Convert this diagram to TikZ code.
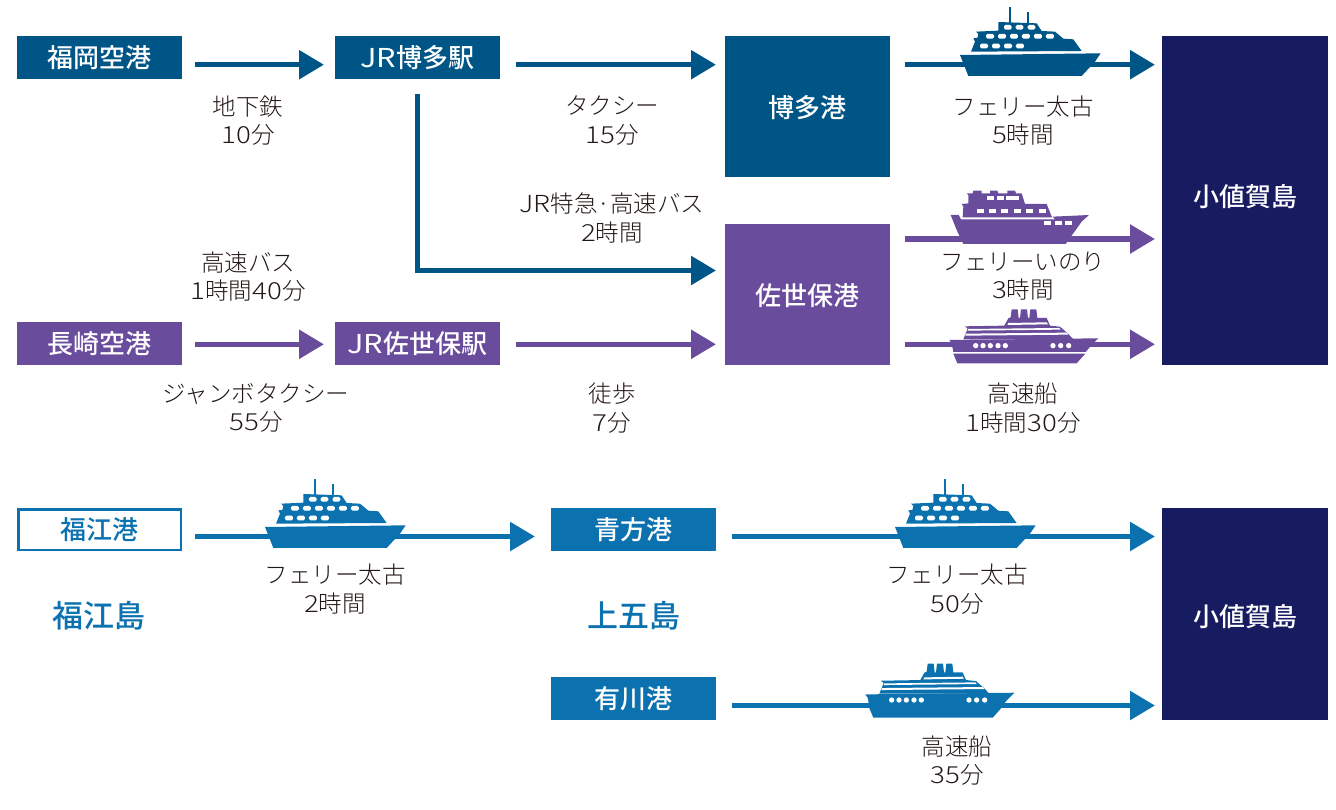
\documentclass[tikz,border=0pt]{standalone}
\usepackage{fontspec}
\usetikzlibrary{arrows.meta,calc}
\setmainfont{Noto Sans CJK JP}[UprightFont=* Light,BoldFont=* Medium]
\newfontfamily\digitfont{Noto Sans CJK JP Light}[FakeStretch=1.18]
\newfontfamily\latinbold{Noto Sans CJK JP}[FakeStretch=1.18]
\newcommand{\dg}[1]{{\digitfont #1}}
\newcommand{\lb}[1]{{\latinbold\mdseries #1}}
\definecolor{hakata}{HTML}{005587}
\definecolor{sasebo}{HTML}{6A4C9C}
\definecolor{goto}{HTML}{0B71AF}
\definecolor{ojika}{HTML}{171C61}
\definecolor{ink}{HTML}{231815}
\tikzset{
  x=1pt,y=-1pt,
  boxnode/.style={inner sep=0pt,outer sep=0pt,text=white,font=\fontsize{26}{28}\selectfont\bfseries,align=center},
  smallbox/.style={boxnode,minimum width=165pt,minimum height=43pt},
  routelabel/.style={inner sep=0pt,text=ink,align=center,font=\fontsize{23.5}{28.6}\selectfont},
  islandlabel/.style={inner sep=0pt,text=goto,font=\fontsize{31}{32}\selectfont\bfseries},
  arr/.style={line width=5.5pt,-{Triangle[length=25pt,width=28pt]}},
  pics/ferryA/.style={code={
    \begin{scope}[x=0.3333pt,y=-0.3333pt]
    \fill[#1] (180,165)--(602,160)--(585,185)--(545,228)--(205,228)--(190,190)--cycle;
    \fill[#1] (213,155)--(545,153)--(520,118)--(490,116)--(465,95)--(425,93)--(410,70)--(295,66)--(295,92)--(228,95)--(235,102)--(232,114)--(220,115)--(225,125)--cycle;
    \fill[#1] (326,20) rectangle (332,68);
    \fill[#1] (380,35) rectangle (386,68);
    \foreach \xx in {312,347,383}
      \fill[white,rounded corners=1.5pt] (\xx,75) rectangle +(23,14);
    \foreach \xx in {258,294,330,366,402,438}
      \fill[white,rounded corners=1.5pt] (\xx,102) rectangle +(24,14);
    \foreach \xx in {240,276,312,348}
      \fill[white,rounded corners=1.5pt] (\xx,131) rectangle +(24,14);
    \end{scope}}},
  pics/ferryB/.style={code={
    \begin{scope}[x=0.3333pt,y=-0.3333pt]
    \fill[#1] (152,105)--(176,105)--(183,118)--(465,118)--(458,110)--(567,105)--(545,125)--(497,192)--(190,192)--(170,150)--cycle;
    \fill[#1] (188,112)--(190,80)--(185,72)--(205,70)--(205,45)--(200,40)--(218,40)--(220,32)--(245,32)--(245,40)--(270,40)--(270,32)--(292,32)--(295,40)--(322,40)--(322,32)--(345,32)--(348,40)--(365,40)--(375,72)--(440,72)--(456,112)--cycle;
    \foreach \xx/\ww in {262/20,292/20,318/40}
      \fill[white] (\xx,48) rectangle +(\ww,12);
    \foreach \xx/\ww in {232/20,268/20,304/20,342/20,378/20,416/22}
      \fill[white] (\xx,87) rectangle +(\ww,11);
    \foreach \xx in {432,466,496}
      \fill[white] (\xx,124) rectangle +(20,10);
    \end{scope}}},
  pics/fastboat/.style={code={
    \begin{scope}[x=0.3333pt,y=-0.3333pt]
    \fill[#1] (160,521)--(556,521)--(530,550)--(172,550)--cycle;
    \fill[#1] (148,480)--(595,475)--(575,495)--(557,516)--(160,516)--(155,490)--cycle;
    \fill[#1] (195,439)--(203,446)--(190,478)--(520,478)--(505,462)--(480,440)--(450,437)--(440,414)--(412,414)--(409,388)--(391,388)--(388,414)--(384,414)--(381,388)--(363,388)--(360,414)--(356,414)--(353,388)--(335,388)--(332,412)--(325,415)--(313,437)--cycle;
    \fill[white] (205,447)--(478,444)--(482,449)--(203,452)--cycle;
    \fill[white] (198,461)--(500,458)--(505,464)--(196,467)--cycle;
    \fill[white] (325,429)--(440,427)--(444,433)--(322,435)--cycle;
    \foreach \xx in {227,249,271,294,316,459,482,506}
      \fill[white] (\xx,497) circle (8);
    \end{scope}}},
}
\begin{document}
\begin{tikzpicture}
\useasboundingbox (0,0) rectangle (1336,810);
% boxes
\node[smallbox,fill=hakata] (fukuokaair) at (99.5,57.5) {福岡空港};
\node[smallbox,fill=hakata] (jrhakata) at (417.5,57.5) {\lb{JR}博多駅};
\node[boxnode,fill=hakata,minimum width=165pt,minimum height=141pt,label={[boxnode,yshift=-1pt]center:博多港}] (hakataport) at (807.5,106.5) {};
\node[boxnode,fill=sasebo,minimum width=165pt,minimum height=141pt,label={[boxnode,yshift=-1pt]center:佐世保港}] (saseboport) at (807.5,294.5) {};
\node[boxnode,fill=ojika,minimum width=166pt,minimum height=329pt,label={[boxnode,yshift=3.5pt]center:小値賀島}] (ojika1) at (1245,200.5) {};
\node[smallbox,fill=sasebo] (nagasakiair) at (99.5,343.5) {長崎空港};
\node[smallbox,fill=sasebo] (jrsasebo) at (417.5,343.5) {\lb{JR}佐世保駅};
\node[smallbox,draw=goto,line width=2.5pt,minimum width=162.5pt,minimum height=40.5pt,text=goto] (fukueport) at (99.5,529.5) {福江港};
\node[smallbox,fill=goto] (aokataport) at (633.5,529.5) {青方港};
\node[smallbox,fill=goto] (arikawaport) at (633.5,698.5) {有川港};
\node[boxnode,fill=ojika,minimum width=166pt,minimum height=212pt,label={[boxnode,yshift=-3pt]center:小値賀島}] (ojika2) at (1245,614) {};
% levels
\coordinate (r1) at (0,64.7);
\coordinate (r2) at (0,239);
\coordinate (r3) at (0,270.5);
\coordinate (r4) at (0,344.3);
\coordinate (r5) at (0,536.5);
\coordinate (r6) at (0,705.5);
% connectors
\draw[arr,hakata,shorten <=13pt,shorten >=11pt] (fukuokaair.east|-r1) -- (jrhakata.west|-r1);
\draw[arr,hakata,shorten <=16pt,shorten >=9pt] (jrhakata.east|-r1) -- (hakataport.west|-r1);
\draw[arr,hakata,shorten <=15pt,shorten >=7pt] (hakataport.east|-r1) -- (ojika1.west|-r1);
\draw[arr,hakata,shorten <=15pt,shorten >=9pt] (jrhakata.south) |- (saseboport.west|-r3);
\draw[arr,sasebo,shorten <=15pt,shorten >=7pt] (saseboport.east|-r2) -- (ojika1.west|-r2);
\draw[arr,sasebo,shorten <=13pt,shorten >=11pt] (nagasakiair.east|-r4) -- (jrsasebo.west|-r4);
\draw[arr,sasebo,shorten <=16pt,shorten >=9pt] (jrsasebo.east|-r4) -- (saseboport.west|-r4);
\draw[arr,sasebo,shorten <=15pt,shorten >=7pt] (saseboport.east|-r4) -- (ojika1.west|-r4);
\draw[arr,goto,shorten <=14.5pt,shorten >=16pt] (fukueport.east|-r5) -- (aokataport.west|-r5);
\draw[arr,goto,shorten <=16pt,shorten >=7pt] (aokataport.east|-r5) -- (ojika2.west|-r5);
\draw[arr,goto,shorten <=16pt,shorten >=7pt] (arikawaport.east|-r6) -- (ojika2.west|-r6);
% ships
\pic at (900,0) {ferryA=hakata};
\pic at (205,472) {ferryA=goto};
\pic at (835,472) {ferryA=goto};
\pic at (900,180) {ferryB=sasebo};
\pic at (900,180) {fastboat=sasebo};
\pic at (816,534.4) {fastboat=goto};
% labels
\node[routelabel] (l1) at (248,120.5) {地下鉄\\\dg{10}分};
\node[routelabel] (l2) at (612,120.5) {タクシー\\\dg{15}分};
\node[routelabel] (l3) at (1023,120.5) {フェリー太古\\\dg{5}時間};
\node[routelabel] (l4) at (612,218) {\dg{JR}特急·高速バス\\\dg{2}時間};
\node[routelabel] (l5) at (248,276.5) {高速バス\\\dg{1}時間\dg{40}分};
\node[routelabel] (l6) at (256,408) {ジャンボタクシー\\\dg{55}分};
\node[routelabel] (l7) at (612,408) {徒歩\\\dg{7}分};
\node[routelabel] (l8) at (1023,276) {フェリーいのり\\\dg{3}時間};
\node[routelabel] (l9) at (1023,408) {高速船\\\dg{1}時間\dg{30}分};
\node[routelabel] (l10) at (335,589) {フェリー太古\\\dg{2}時間};
\node[routelabel] (l11) at (957,589) {フェリー太古\\\dg{50}分};
\node[routelabel] (l12) at (957,760.5) {高速船\\\dg{35}分};
\node[islandlabel] (fukuejima) at (99,616) {福江島};
\node[islandlabel] (kamigoto) at (634,616) {上五島};
\end{tikzpicture}
\end{document}
